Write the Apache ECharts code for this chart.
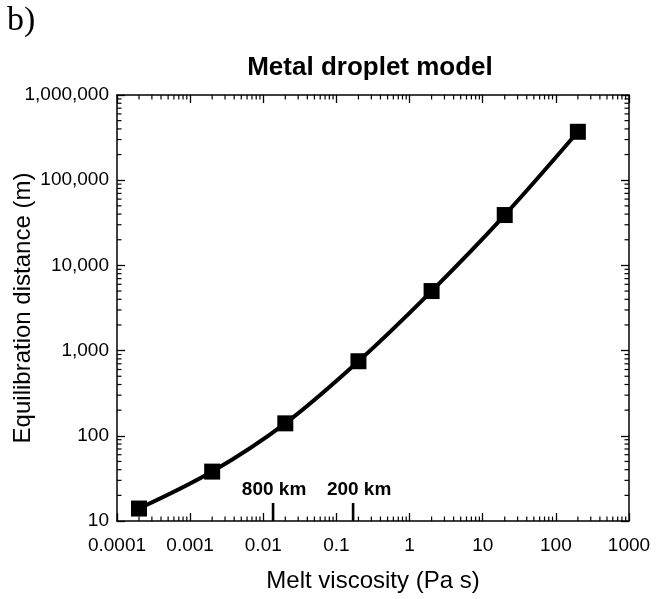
<!DOCTYPE html>
<html>
<head>
<meta charset="utf-8">
<script src="https://cdn.jsdelivr.net/npm/echarts@6/dist/echarts.min.js"></script>
<style>
html,body{margin:0;padding:0;background:#fff;}
#chart{width:656px;height:599px;}
</style>
</head>
<body>
<div id="chart"></div>
<script>
// ---- data ----
const xTickLabels = ['0.0001', '0.001', '0.01', '0.1', '1', '10', '100', '1000'];
const yTickLabels = ['10', '100', '1,000', '10,000', '100,000', '1,000,000'];
const viscosity = [0.0002, 0.002, 0.02, 0.2, 2, 20, 200];
const distance = [14, 38, 140, 750, 5000, 39000, 370000];
const depthMarkerX = [0.0136, 0.169];
const depthMarkerLabels = ['800 km', '200 km'];
const minorMultipliers = [2, 3, 4, 5, 6, 7, 8, 9];
const xDecades = [0.0001, 0.001, 0.01, 0.1, 1, 10, 100];
const yDecades = [10, 100, 1000, 10000, 100000];

const X_MIN = 0.0001, X_MAX = 1000, Y_MIN = 10, Y_MAX = 1000000;

const xMinor = [];
xDecades.forEach(d => minorMultipliers.forEach(m => xMinor.push([+(d * m).toPrecision(3), Y_MIN])));
const yMinor = [];
yDecades.forEach(d => minorMultipliers.forEach(m => yMinor.push([X_MIN, d * m])));

const FONT = '"Liberation Sans", Arial, sans-serif';
const chart = echarts.init(document.getElementById('chart'), null, {renderer: 'canvas'});

function xFmt(v) { return xTickLabels[Math.round(Math.log10(v)) + 4]; }
function yFmt(v) { return yTickLabels[Math.round(Math.log10(v)) - 1]; }

const axisLine = {show: true, lineStyle: {color: '#000', width: 1.5}};
const majorTick = {show: true, inside: true, length: 8, lineStyle: {color: '#000', width: 1.3}};

const option = {
  animation: false,
  backgroundColor: '#fff',
  graphic: [
    {type: 'text', x: 7, y: 4, style: {text: 'b)', font: '34px "Liberation Serif", "Times New Roman", serif', fill: '#000'}},
    {type: 'text', x: 370, y: 68, style: {text: 'Metal droplet model', font: 'bold 26px ' + FONT, fill: '#000', align: 'center', verticalAlign: 'middle'}}
  ],
  grid: {left: 117, right: 27, top: 95, bottom: 78, containLabel: false, outerBoundsMode: 'none'},
  xAxis: [
    {
      type: 'log', logBase: 10, min: X_MIN, max: X_MAX, interval: 1, splitNumber: 7,
      position: 'bottom',
      name: 'Melt viscosity (Pa s)', nameLocation: 'middle', nameGap: 48, nameMoveOverlap: false,
      nameTextStyle: {fontFamily: FONT, fontSize: 24, color: '#000'},
      axisLine: axisLine, axisTick: majorTick, splitLine: {show: false},
      axisLabel: {formatter: xFmt, fontFamily: FONT, fontSize: 19, color: '#000', margin: 15, hideOverlap: false}
    },
    {
      type: 'log', logBase: 10, min: X_MIN, max: X_MAX, interval: 1, splitNumber: 7,
      position: 'top',
      axisLine: axisLine, axisTick: majorTick, splitLine: {show: false},
      axisLabel: {show: false}
    }
  ],
  yAxis: [
    {
      type: 'log', logBase: 10, min: Y_MIN, max: Y_MAX, interval: 1, splitNumber: 5,
      position: 'left',
      name: 'Equilibration distance (m)', nameLocation: 'middle', nameGap: 82, nameMoveOverlap: false,
      nameTextStyle: {fontFamily: FONT, fontSize: 24, color: '#000'},
      axisLine: axisLine, axisTick: majorTick, splitLine: {show: false},
      axisLabel: {formatter: yFmt, fontFamily: FONT, fontSize: 19, color: '#000', margin: 8, hideOverlap: false}
    },
    {
      type: 'log', logBase: 10, min: Y_MIN, max: Y_MAX, interval: 1, splitNumber: 5,
      position: 'right',
      axisLine: axisLine, axisTick: majorTick, splitLine: {show: false},
      axisLabel: {show: false}
    }
  ],
  series: [
    {
      type: 'custom', name: 'xMinor', xAxisIndex: 0, yAxisIndex: 0, silent: true, clip: false,
      data: xMinor,
      renderItem: function (params, api) {
        const p = api.coord([api.value(0), api.value(1)]);
        const cs = params.coordSys;
        const st = {stroke: '#000', lineWidth: 1.2};
        return {type: 'group', children: [
          {type: 'line', shape: {x1: p[0], y1: cs.y + cs.height, x2: p[0], y2: cs.y + cs.height - 4.5}, style: st},
          {type: 'line', shape: {x1: p[0], y1: cs.y, x2: p[0], y2: cs.y + 4.5}, style: st}
        ]};
      }
    },
    {
      type: 'custom', name: 'yMinor', xAxisIndex: 0, yAxisIndex: 0, silent: true, clip: false,
      data: yMinor,
      renderItem: function (params, api) {
        const p = api.coord([api.value(0), api.value(1)]);
        const cs = params.coordSys;
        const st = {stroke: '#000', lineWidth: 1.2};
        return {type: 'group', children: [
          {type: 'line', shape: {x1: cs.x, y1: p[1], x2: cs.x + 4.5, y2: p[1]}, style: st},
          {type: 'line', shape: {x1: cs.x + cs.width, y1: p[1], x2: cs.x + cs.width - 4.5, y2: p[1]}, style: st}
        ]};
      }
    },
    {
      type: 'custom', name: 'depth', xAxisIndex: 0, yAxisIndex: 0, silent: true, clip: false,
      data: depthMarkerX.map(v => [v, Y_MIN]),
      renderItem: function (params, api) {
        const p = api.coord([api.value(0), api.value(1)]);
        return {type: 'group', children: [
          {type: 'line', shape: {x1: p[0], y1: p[1], x2: p[0], y2: p[1] - 18}, style: {stroke: '#000', lineWidth: 2.6}},
          {type: 'text', x: p[0] + (params.dataIndex === 1 ? 6 : 1), y: p[1] - 31,
           style: {text: depthMarkerLabels[params.dataIndex], font: 'bold 19px ' + FONT, fill: '#000', align: 'center', verticalAlign: 'middle'}}
        ]};
      }
    },
    {
      type: 'line', name: 'model', xAxisIndex: 0, yAxisIndex: 0,
      data: viscosity.map((v, i) => [v, distance[i]]),
      smooth: 0.35,
      symbol: 'rect', symbolSize: 16, showSymbol: true,
      lineStyle: {color: '#000', width: 4},
      itemStyle: {color: '#000'},
      z: 5
    }
  ]
};
chart.setOption(option);
</script>
</body>
</html>
